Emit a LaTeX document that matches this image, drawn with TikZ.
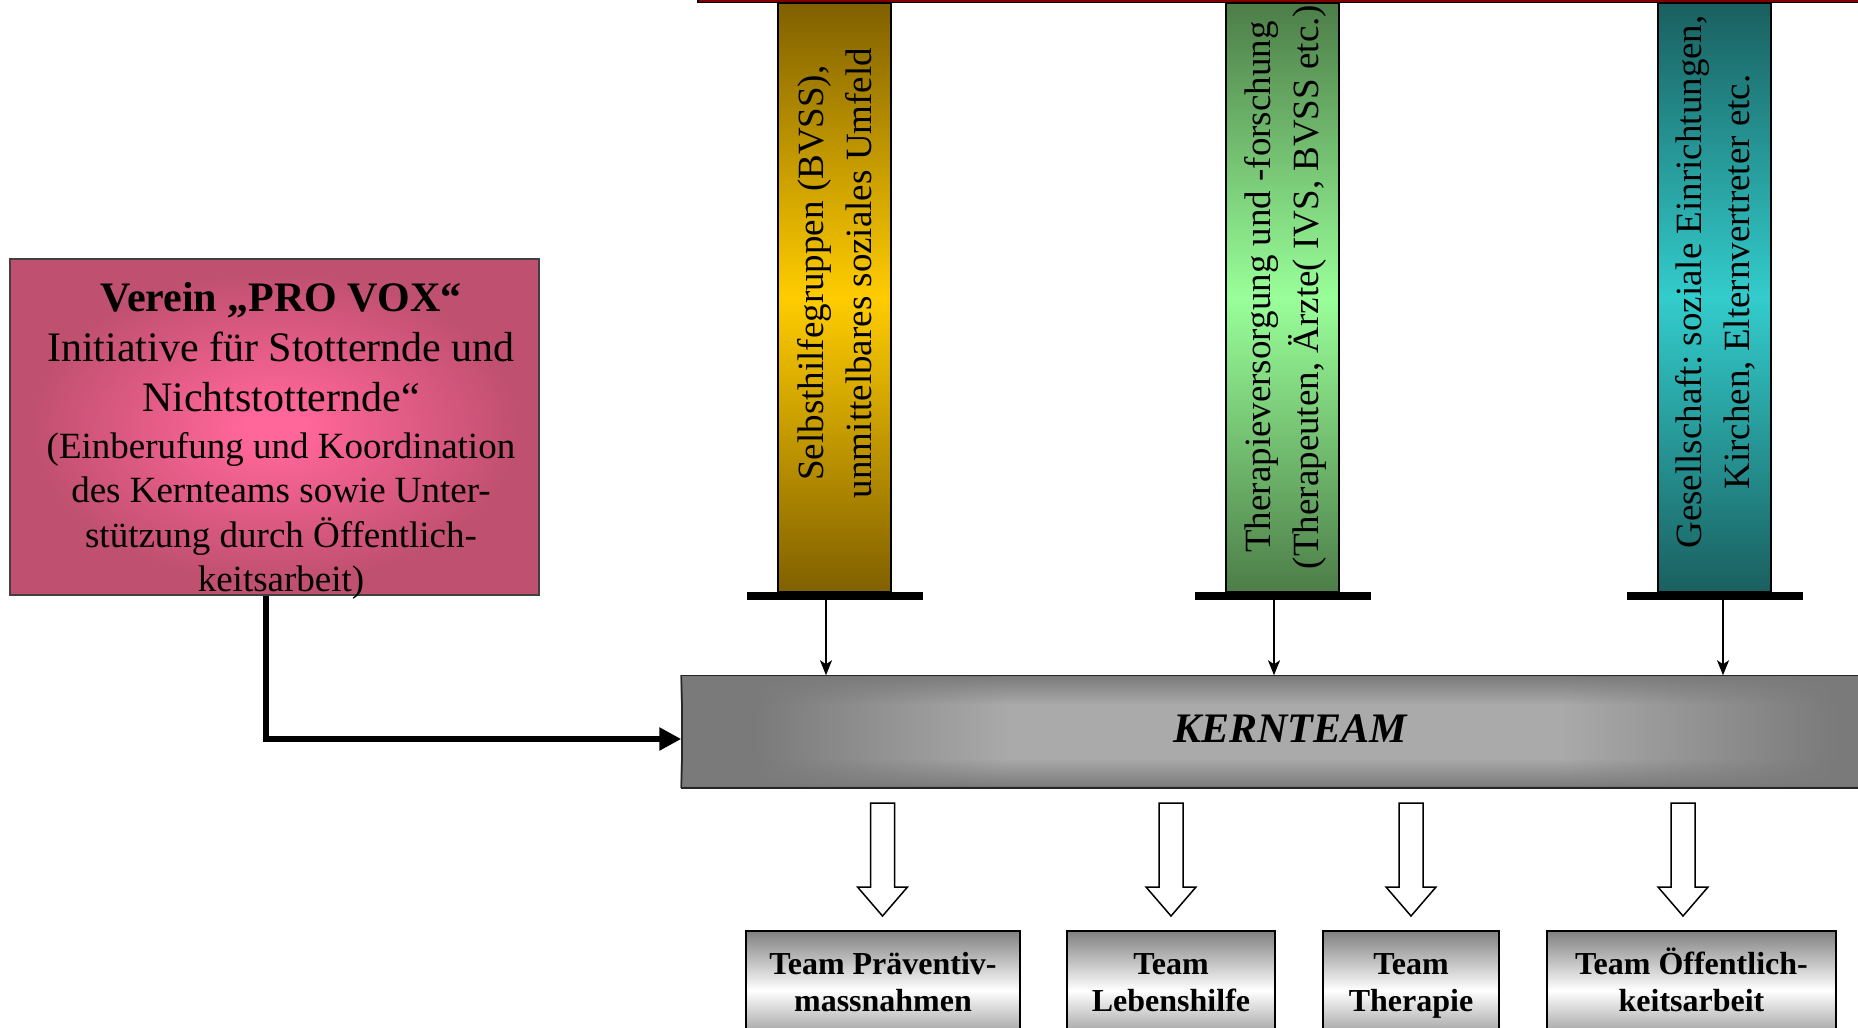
\documentclass[tikz,border=0pt]{standalone}
\usepackage{fontspec}
\setmainfont{Liberation Serif}
\usetikzlibrary{arrows.meta,fadings}
\definecolor{pinkin}{RGB}{255,102,153}
\definecolor{pinkout}{RGB}{192,80,112}
\definecolor{golddark}{RGB}{128,96,0}
\definecolor{goldlight}{RGB}{255,204,0}
\definecolor{greendark}{RGB}{77,125,72}
\definecolor{greenlight}{RGB}{153,255,153}
\definecolor{tealdark}{RGB}{26,95,95}
\definecolor{teallight}{RGB}{51,204,204}
\definecolor{kerndark}{RGB}{122,122,122}
\definecolor{kernlight}{RGB}{170,170,170}
\definecolor{teamgray}{RGB}{128,128,128}
\definecolor{topred}{RGB}{128,0,0}
\pgfdeclareradialshading{pinkrad}{\pgfpoint{0bp}{0bp}}{color(0bp)=(pinkin); color(3bp)=(pinkin); color(23bp)=(pinkout); color(50bp)=(pinkout)}
\pgfdeclarehorizontalshading{kernh}{100bp}{color(0bp)=(kerndark); color(28bp)=(kerndark); color(38.5bp)=(kernlight); color(61bp)=(kernlight); color(72.5bp)=(kerndark); color(100bp)=(kerndark)}
\pgfdeclareverticalshading{kernvsh}{100bp}{color(0bp)=(white); color(25bp)=(white); color(38bp)=(black); color(62bp)=(black); color(75bp)=(white); color(100bp)=(white)}
\tikzfading[name=kernv, shading=kernvsh]
\tikzset{
  pillar/.style={draw=black, line width=2.5pt, minimum width=113pt, minimum height=589pt, inner sep=0pt},
  basebar/.style={fill=black, minimum width=176pt, minimum height=8pt, inner sep=0pt},
  pillartext/.style={rotate=90, align=center, font=\fontsize{37}{48}\selectfont, inner sep=0pt},
  thinarrow/.style={line width=1.5pt, -{Stealth[length=15pt,width=12pt,inset=4pt]}},
  thickarrow/.style={line width=6pt, -{Triangle[length=22pt,width=22pt]}},
  blockarrow/.style={draw=black, line width=1.5pt, fill=white, line join=miter},
  teambox/.style={draw=black, line width=1.5pt, top color=teamgray, bottom color=teamgray, middle color=white, minimum height=119pt, inner sep=0pt},
  teamtext/.style={font=\bfseries\fontsize{32}{37}\selectfont, align=flush center, text width=300pt, inner sep=0pt, anchor=base},
  kernbox/.style={draw=black!85, line width=1.5pt, shade, shading=kernh, minimum width=1216pt, minimum height=111pt, inner sep=0pt},
  vereinbox/.style={draw=black!75, line width=1.5pt, preaction={fill=pinkout}, shade, shading=pinkrad, minimum width=529pt, minimum height=336pt, inner sep=0pt},
}
\begin{document}
\frenchspacing
\begin{tikzpicture}[x=1pt,y=-1pt]
\useasboundingbox (0,0) rectangle (1858,1028);
\clip (0,0) rectangle (1858,1028);
% top red bar
\filldraw[fill=topred, draw=black, line width=1.5pt] (698,-30) rectangle (1900,2.5);
% pillars
\node[pillar, top color=golddark, bottom color=golddark, middle color=goldlight] (p1) at (834.5,297.5) {};
\node[pillar, top color=greendark, bottom color=greendark, middle color=greenlight] (p2) at (1282.5,297.5) {};
\node[pillar, top color=tealdark, bottom color=tealdark, middle color=teallight] (p3) at (1714.5,297.5) {};
\node[pillartext] (p1t) at (835,273) {Selbsthilfegruppen (BVSS),\\unmittelbares soziales Umfeld};
\node[pillartext] (p2t) at (1285,287) {Therapieversorgung und -forschung\\(Therapeuten, Ärzte( IVS, BVSS etc.)};
\node[pillartext] (p3t) at (1715,282) {Gesellschaft: soziale Einrichtungen,\\Kirchen, Elternvertreter etc.};
% base bars
\node[basebar] (b1) at (835,596) {};
\node[basebar] (b2) at (1283,596) {};
\node[basebar] (b3) at (1715,596) {};
% Kernteam
\node[kernbox] (kern) at (1290,731.5) {};
\fill[kerndark, path fading=kernv] (kern.south west) rectangle (kern.north east);
\draw[draw=black!85, line width=1.5pt] (kern.south west) rectangle (kern.north east);
\node[anchor=base, inner sep=0pt, font=\bfseries\itshape\fontsize{42}{50}\selectfont] (kerntext) at (1290,742) {KERNTEAM};
% Verein
\node[vereinbox] (verein) at (274.5,427) {};
\node[anchor=base, text width=520pt, align=flush center, inner sep=0pt, font=\fontsize{42}{50}\selectfont] (vereintext) at (281,311)
  {{\bfseries Verein „PRO VOX“}\\Initiative für Stotternde und\\Nichtstotternde“\par\vspace{2.5pt}
   {\fontsize{37}{44.5}\selectfont (Einberufung und Koordination\\des Kernteams sowie Unter-\\stützung durch Öffentlich-\\keitsarbeit)\par}};
% connectors
\draw[thinarrow] ([xshift=-9pt]b1.south) -- ([xshift=-9pt]b1.south |- kern.north);
\draw[thinarrow] ([xshift=-9pt]b2.south) -- ([xshift=-9pt]b2.south |- kern.north);
\draw[thinarrow] ([xshift=8pt]b3.south) -- ([xshift=8pt]b3.south |- kern.north);
\draw[thickarrow] ([xshift=-8.5pt]verein.south) |- ([yshift=-7.5pt]kern.west);
% team boxes
\node[teambox, minimum width=274pt] (t1) at (883,990.5) {};
\node[teambox, minimum width=208pt] (t2) at (1171,990.5) {};
\node[teambox, minimum width=176pt] (t3) at (1411,990.5) {};
\node[teambox, minimum width=289pt] (t4) at (1691.5,990.5) {};
\node[teamtext] (t1t) at (883,974) {Team Präventiv-\\massnahmen};
\node[teamtext] (t2t) at (1171,974) {Team\\Lebenshilfe};
\node[teamtext] (t3t) at (1411,974) {Team\\Therapie};
\node[teamtext] (t4t) at (1691.5,974) {Team Öffentlich-\\keitsarbeit};
% block arrows
\foreach \ax in {882.5,1171,1411,1683}
  \draw[blockarrow] (\ax-12,803) -- (\ax+12,803) -- (\ax+12,887) -- (\ax+25,887) -- (\ax,916) -- (\ax-25,887) -- (\ax-12,887) -- cycle;
\end{tikzpicture}
\end{document}
